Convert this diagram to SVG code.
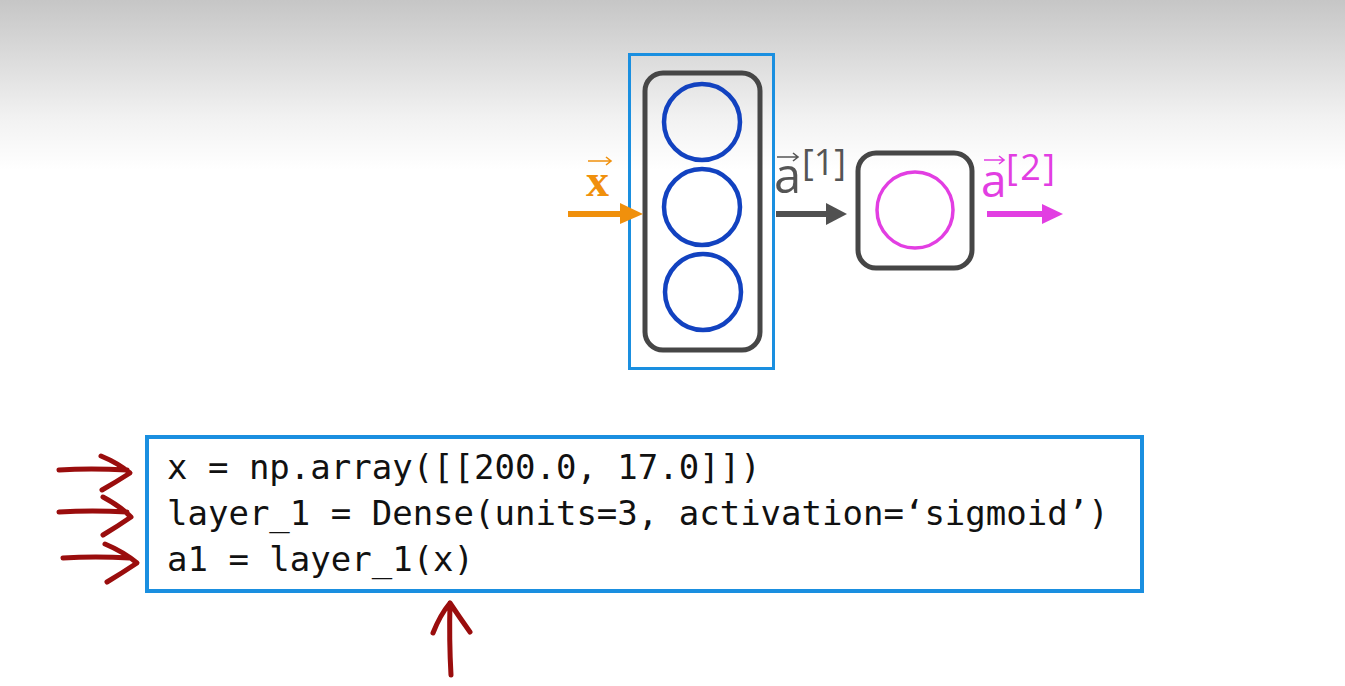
<svg xmlns="http://www.w3.org/2000/svg" width="1345" height="686" viewBox="0 0 1345 686">
<defs>
<linearGradient id="bg" x1="0" y1="0" x2="0" y2="1">
<stop offset="0" stop-color="#c6c6c6"/>
<stop offset="0.7" stop-color="#f2f2f2"/>
<stop offset="1" stop-color="#ffffff"/>
</linearGradient>
<style>
.box{fill:none;stroke:#464646;stroke-width:5}
.blue{fill:none;stroke:#1a8fe0}
.unit{fill:none;stroke:#1242c0;stroke-width:4.5}
.code{font-family:"DejaVu Sans Mono","Liberation Mono",monospace;font-size:34px;fill:#111}
.lbl{font-family:"Open Sans","Liberation Sans",sans-serif}
.red{fill:none;stroke:#9a0d0d;stroke-width:5;stroke-linecap:round;stroke-linejoin:round}
</style>
</defs>
<rect x="0" y="0" width="1345" height="686" fill="#fff"/>
<rect x="0" y="0" width="1345" height="170" fill="url(#bg)"/>

<g id="layer1">
<rect class="blue" x="629.5" y="54.5" width="144" height="314" stroke-width="3"/>
<rect class="box" x="645" y="73" width="115" height="277" rx="18"/>
<circle class="unit" cx="702" cy="122" r="38"/>
<circle class="unit" cx="702" cy="207" r="38"/>
<circle class="unit" cx="703" cy="292" r="38"/>
</g>

<g id="layer2">
<rect class="box" x="858" y="153" width="114" height="115" rx="18"/>
<circle cx="915" cy="210" r="38" fill="none" stroke="#e23ee2" stroke-width="3.5"/>
</g>

<g id="labels">
<text x="586" y="196" font-size="46" fill="#f0900c" font-weight="bold" style="font-family:'Liberation Serif',serif">x</text>
<path d="M588 161 H611 M606 157 L611 161 L606 165" fill="none" stroke="#f0900c" stroke-width="1.6"/>
<text class="lbl" x="774" y="193" font-size="49" fill="#555">a</text>
<text class="lbl" x="802" y="175" font-size="36" fill="#555" textLength="44">[1]</text>
<path d="M777 157 H798 M793 153 L798 157 L793 161" fill="none" stroke="#555" stroke-width="1.6"/>
<text class="lbl" x="981" y="197" font-size="46" fill="#e23ee2">a</text>
<text class="lbl" x="1006" y="180" font-size="36" fill="#e23ee2" textLength="49">[2]</text>
<path d="M984 160 H1004 M999 156 L1004 160 L999 164" fill="none" stroke="#e23ee2" stroke-width="1.6"/>
</g>

<g id="connectors">
<path d="M568 214 H624" stroke="#f0900c" stroke-width="6"/>
<path d="M620 203 L643 214 L620 224 Z" fill="#f0900c"/>
<path d="M776 214 H830" stroke="#505050" stroke-width="6"/>
<path d="M826 203 L847 214 L826 225 Z" fill="#505050"/>
<path d="M987 214 H1046" stroke="#e23ee2" stroke-width="6"/>
<path d="M1042 204 L1063 214 L1042 224 Z" fill="#e23ee2"/>
</g>

<g id="code">
<rect class="blue" x="147" y="437" width="995" height="154" stroke-width="4"/>
<text class="code" x="167" y="479">x = np.array([[200.0, 17.0]])</text>
<text class="code" x="167" y="525">layer_1 = Dense(units=3, activation=‘sigmoid’)</text>
<text class="code" x="167" y="571">a1 = layer_1(x)</text>
</g>

<g id="annotations">
<path class="red" d="M59 470 Q90 468 127 470 M101 456 Q118 463 130 473 Q116 482 102 490"/>
<path class="red" d="M59 512 Q92 510 127 512 M103 497 Q120 506 131 517 Q118 526 103 535"/>
<path class="red" d="M63 558 Q95 556 130 558 M105 544 Q124 552 137 563 Q122 573 107 582"/>
<path class="red" d="M451 675 Q449 640 450 603 M433 633 Q440 615 450 603 Q460 618 470 632"/>
</g>
</svg>
